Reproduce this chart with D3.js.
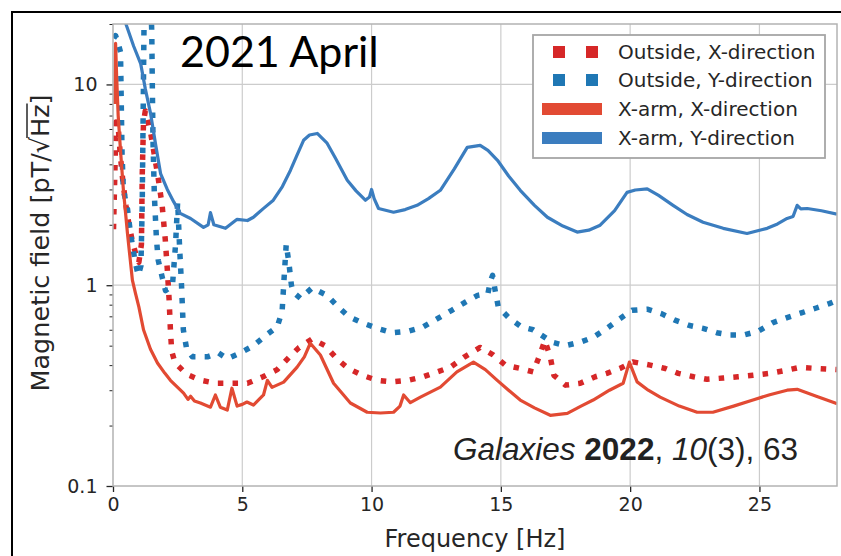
<!DOCTYPE html>
<html>
<head>
<meta charset="utf-8">
<script src="https://cdn.jsdelivr.net/npm/d3@7"></script>
<style>
  body { margin: 0; background: #fff; }
  text { font-family: "DejaVu Sans", sans-serif; fill: #262626; }
</style>
</head>
<body>
<svg id="chart" width="841" height="556"></svg>
<script>
// values, [frequency Hz, field pT/sqrt(Hz)]
let outsideX = [[0.02, 1.9], [0.08, 4], [0.12, 6.5], [0.2, 6.2], [0.28, 4.5], [0.38, 3.3], [0.5, 2.5], [0.62, 2.0],
  [0.75, 1.65], [0.9, 1.4], [1.0, 1.3], [1.1, 1.6], [1.13, 3.5], [1.18, 6.5], [1.25, 7.4], [1.45, 5.8], [1.62, 4.3],
  [1.75, 3.4], [1.9, 2.5], [2.02, 1.7], [2.1, 1.2], [2.17, 0.85], [2.22, 0.6], [2.27, 0.47], [2.4, 0.41], [2.85, 0.36],
  [3.4, 0.336], [3.98, 0.325], [4.6, 0.325], [5.2, 0.325], [5.8, 0.35], [6.35, 0.38], [6.9, 0.45], [7.2, 0.49],
  [7.7, 0.54], [8.2, 0.5], [8.66, 0.43], [9.1, 0.385], [9.64, 0.356], [10.22, 0.336], [10.8, 0.33], [11.42, 0.336],
  [12.0, 0.35], [13.04, 0.39], [13.6, 0.44], [14.2, 0.49], [14.7, 0.45], [15.17, 0.40], [15.75, 0.385], [16.25, 0.37],
  [16.45, 0.43], [16.7, 0.53], [16.91, 0.44], [17.05, 0.356], [17.5, 0.318], [18.07, 0.325], [18.65, 0.35],
  [19.1, 0.364], [19.6, 0.385], [20.1, 0.415], [20.78, 0.40], [21.36, 0.385], [21.86, 0.364], [22.45, 0.35],
  [22.97, 0.34], [23.6, 0.345], [24.17, 0.35], [24.75, 0.356], [25.4, 0.364], [25.98, 0.376], [26.56, 0.39],
  [27.2, 0.385], [28, 0.38]]

let outsideY = [[0.03, 17], [0.1, 17.5], [0.2, 16], [0.29, 14.5], [0.32, 8], [0.35, 4.5], [0.4, 3.0], [0.5, 2.6],
  [0.56, 2.4], [0.68, 1.8], [0.87, 1.28], [0.98, 1.12], [1.08, 1.25], [1.13, 2.5], [1.17, 8], [1.2, 20], [1.23, 30],
  [1.3, 30], [1.45, 30], [1.5, 18], [1.52, 10], [1.55, 5], [1.6, 2.8], [1.68, 1.7], [1.75, 1.33], [1.9, 1.1],
  [2.03, 0.94], [2.3, 1.0], [2.42, 1.6], [2.5, 2.6], [2.58, 1.5], [2.65, 1.0], [2.72, 0.6], [2.85, 0.48],
  [3.07, 0.44], [3.65, 0.44], [4.08, 0.46], [4.42, 0.43], [4.93, 0.46], [5.43, 0.50], [5.89, 0.56], [6.35, 0.62],
  [6.54, 0.74], [6.62, 1.1], [6.7, 1.6], [6.8, 1.3], [6.9, 1.0], [6.98, 0.92], [7.25, 0.86], [7.7, 0.97],
  [8.28, 0.89], [8.66, 0.79], [9.1, 0.70], [9.64, 0.65], [10.22, 0.61], [10.8, 0.58], [11.42, 0.59], [12.0, 0.62],
  [12.53, 0.68], [13.1, 0.75], [13.6, 0.82], [14.1, 0.89], [14.5, 0.91], [14.6, 1.05], [14.68, 1.12], [14.78, 0.94],
  [14.9, 0.78], [15.3, 0.69], [15.8, 0.62], [16.25, 0.6], [16.7, 0.55], [16.98, 0.52], [17.5, 0.50], [18.07, 0.52],
  [18.57, 0.55], [19.1, 0.61], [19.6, 0.68], [20.07, 0.75], [20.66, 0.76], [21.23, 0.72], [21.73, 0.67],
  [22.3, 0.63], [22.82, 0.61], [23.35, 0.58], [23.87, 0.565], [24.4, 0.565], [24.95, 0.59], [25.5, 0.65],
  [26.07, 0.69], [26.65, 0.73], [27.2, 0.77], [27.7, 0.81], [28, 0.84]]

let armX = [[0.07, 8], [0.1, 16], [0.14, 11], [0.2, 7], [0.29, 4.7], [0.4, 3.0], [0.56, 1.81], [0.75, 1.06],
  [0.87, 0.91], [1.0, 0.78], [1.18, 0.6], [1.45, 0.48], [1.72, 0.41], [2.0, 0.365], [2.22, 0.336], [2.5, 0.31],
  [2.73, 0.29], [2.9, 0.27], [3.0, 0.28], [3.15, 0.265], [3.38, 0.259], [3.77, 0.247], [3.96, 0.284], [4.15, 0.247],
  [4.42, 0.239], [4.6, 0.307], [4.8, 0.25], [5.0, 0.255], [5.18, 0.262], [5.43, 0.253], [5.82, 0.284], [5.97, 0.336],
  [6.15, 0.31], [6.6, 0.329], [7.12, 0.391], [7.4, 0.44], [7.63, 0.514], [8.02, 0.449], [8.53, 0.325], [9.18, 0.259],
  [9.83, 0.233], [10.34, 0.231], [10.85, 0.233], [11.1, 0.25], [11.24, 0.284], [11.5, 0.26], [11.89, 0.277],
  [12.66, 0.311], [13.3, 0.37], [13.94, 0.414], [14.4, 0.38], [14.86, 0.336], [15.3, 0.3], [15.75, 0.268],
  [16.3, 0.245], [16.91, 0.225], [17.57, 0.23], [18.1, 0.25], [18.57, 0.268], [19.2, 0.3], [19.73, 0.325],
  [19.97, 0.414], [20.27, 0.33], [20.7, 0.3], [21.16, 0.277], [21.9, 0.25], [22.59, 0.233], [23.2, 0.233],
  [24.0, 0.25], [24.75, 0.268], [25.4, 0.285], [26.07, 0.30], [26.46, 0.303], [27.2, 0.28], [27.93, 0.259], [28, 0.257]]

let armY = [[0.35, 26], [0.5, 20], [0.8, 15.5], [1.07, 12.7], [1.25, 9.5], [1.45, 7.2], [1.65, 5.0], [1.84, 3.6],
  [2.1, 3.0], [2.35, 2.6], [2.6, 2.28], [3.0, 2.15], [3.5, 1.94], [3.68, 2.0], [3.77, 2.3], [3.9, 2.0], [4.35, 1.92],
  [4.8, 2.13], [5.2, 2.1], [5.43, 2.18], [5.8, 2.4], [6.2, 2.65], [6.55, 3.1], [6.86, 3.73], [7.1, 4.4], [7.37, 5.27],
  [7.6, 5.6], [7.9, 5.7], [8.28, 5.1], [8.6, 4.3], [9.06, 3.33], [9.4, 2.95], [9.76, 2.65], [9.92, 2.75], [10.0, 3.0],
  [10.1, 2.7], [10.27, 2.41], [10.85, 2.31], [11.3, 2.38], [11.76, 2.5], [12.2, 2.7], [12.66, 2.97], [13.2, 3.8],
  [13.7, 4.86], [14.2, 4.97], [14.5, 4.7], [14.87, 4.19], [15.3, 3.5], [15.75, 2.97], [16.3, 2.5], [16.8, 2.18],
  [17.4, 1.97], [17.95, 1.84], [18.4, 1.88], [18.84, 1.99], [19.4, 2.35], [19.88, 2.9], [20.2, 2.98], [20.66, 3.02],
  [21.1, 2.8], [21.66, 2.5], [22.2, 2.25], [22.82, 2.06], [23.6, 1.92], [24.52, 1.81], [25.3, 1.92], [25.7, 2.02],
  [26.07, 2.15], [26.3, 2.2], [26.46, 2.5], [26.6, 2.4], [26.85, 2.41], [27.4, 2.35], [28, 2.26]]

let seriesNames = ["Outside, X-direction", "Outside, Y-direction", "X-arm, X-direction", "X-arm, Y-direction"]
let seriesColors = ["#d62728", "#1f77b4", "#e24a33", "#3b7dbf"]
let xTicks = [0, 5, 10, 15, 20, 25]
let yTicks = [0.1, 1, 10]
let yTickLabels = ["0.1", "1", "10"]

let svg = d3.select("#chart")
let pLeft = 113, pRight = 837, pTop = 24, pBottom = 486

let x = d3.scaleLinear().domain([0, 28]).range([pLeft, pRight])
let y = d3.scaleLog().domain([0.1, 20]).range([pBottom, pTop])

// outer black frame of the figure
svg.append("line").attr("x1", 11).attr("x2", 841).attr("y1", 12).attr("y2", 12)
    .attr("stroke", "black").attr("stroke-width", 2)
svg.append("line").attr("x1", 12).attr("x2", 12).attr("y1", 11).attr("y2", 556)
    .attr("stroke", "black").attr("stroke-width", 2)

// grid
let grid = svg.append("g").attr("class", "grid")
grid.selectAll(".vx").data(xTicks.filter(d => d > 0)).enter().append("line")
    .attr("x1", d => x(d)).attr("x2", d => x(d)).attr("y1", pTop).attr("y2", pBottom)
    .attr("stroke", "#cccccc").attr("stroke-width", 1.2)
grid.selectAll(".hy").data(yTicks.filter(d => d > 0.1)).enter().append("line")
    .attr("x1", pLeft).attr("x2", pRight).attr("y1", d => y(d)).attr("y2", d => y(d))
    .attr("stroke", "#cccccc").attr("stroke-width", 1.2)

// axes
let xAxis = svg.append("g")
    .attr("transform", "translate(0," + pBottom + ")")
    .call(d3.axisBottom(x).tickValues(xTicks).tickSize(6).tickPadding(6))
xAxis.select(".domain").remove()
xAxis.selectAll("line").attr("stroke", "#262626").attr("stroke-width", 1.3)
xAxis.selectAll("text").style("font-size", "19px").attr("fill", "#262626")

let minor = []
;[0.1, 1, 10].forEach(b => { for (let k = 2; k <= 9; k++) if (b * k <= 20) minor.push(b * k) })
let yMinor = svg.append("g")
    .attr("transform", "translate(" + pLeft + ",0)")
    .call(d3.axisLeft(y).tickValues(minor).tickSize(3.5).tickFormat(""))
yMinor.select(".domain").remove()
yMinor.selectAll("line").attr("stroke", "#262626").attr("stroke-width", 1)

let yAxis = svg.append("g")
    .attr("transform", "translate(" + pLeft + ",0)")
    .call(d3.axisLeft(y).tickValues(yTicks).tickSize(6.5).tickPadding(9)
        .tickFormat((d, i) => yTickLabels[i]))
yAxis.select(".domain").remove()
yAxis.selectAll("line").attr("stroke", "#262626").attr("stroke-width", 1.3)
yAxis.selectAll("text").style("font-size", "19px").attr("fill", "#262626")

// lines
svg.append("clipPath").attr("id", "clip")
    .append("rect").attr("x", pLeft).attr("y", pTop).attr("width", pRight - pLeft).attr("height", pBottom - pTop)

let line = d3.line().x(d => x(d[0])).y(d => y(d[1]))
let plot = svg.append("g").attr("clip-path", "url(#clip)")
let allSeries = [outsideX, outsideY, armX, armY]
plot.selectAll("path").data(allSeries).enter().append("path")
    .attr("d", line)
    .attr("fill", "none")
    .attr("stroke", (d, i) => seriesColors[i])
    .attr("stroke-width", (d, i) => i < 2 ? 5.5 : 3.2)
    .attr("stroke-dasharray", (d, i) => i < 2 ? "5.5,9.2" : null)
    .attr("stroke-linejoin", "round")

// spines
svg.append("rect").attr("x", pLeft).attr("y", pTop).attr("width", pRight - pLeft).attr("height", pBottom - pTop)
    .attr("fill", "none").attr("stroke", "#b3b3b3").attr("stroke-width", 1.5)

// axis labels
svg.append("text").attr("x", (pLeft + pRight) / 2).attr("y", 547)
    .attr("text-anchor", "middle").style("font-size", "24px")
    .text("Frequency [Hz]")

let ylab = svg.append("g").attr("transform", "translate(49,243) rotate(-90)")
let ytext = ylab.append("text").attr("x", 0).attr("y", 0)
    .attr("text-anchor", "middle").style("font-size", "25.5px")
let pre = "Magnetic field [pT/\u221A"
ytext.append("tspan").text(pre)
ytext.append("tspan").text("Hz")
ytext.append("tspan").text("]")
let node = ytext.node()
let total = node.getComputedTextLength()
let preLen = node.getSubStringLength(0, pre.length)
let hzLen = node.getSubStringLength(pre.length, 2)
let x0 = -total / 2
ylab.append("line")
    .attr("x1", x0 + preLen - 1).attr("x2", x0 + preLen + hzLen + 1)
    .attr("y1", -22).attr("y2", -22)
    .attr("stroke", "#262626").attr("stroke-width", 1.5)

// title and citation
svg.append("text").attr("x", 180).attr("y", 67)
    .style("font-family", "Lato, 'Open Sans', sans-serif").style("font-size", "43px")
    .style("fill", "black")
    .text("2021 April")

let cite = svg.append("text").attr("x", 453).attr("y", 460)
    .style("font-family", "'Liberation Sans', Arial, sans-serif").style("font-size", "31.5px")
    .style("fill", "#222")
cite.append("tspan").style("font-style", "italic").text("Galaxies")
cite.append("tspan").text(" ")
cite.append("tspan").style("font-weight", "bold").text("2022")
cite.append("tspan").text(", ")
cite.append("tspan").style("font-style", "italic").text("10")
cite.append("tspan").text("(3), 63")

// legend
let legend = svg.append("g")
legend.append("rect").attr("x", 533).attr("y", 35).attr("width", 292).attr("height", 123)
    .attr("fill", "white").attr("stroke", "#a6a6a6").attr("stroke-width", 1.8)
let rowY = [52, 80, 109, 138]
let items = legend.selectAll(".item").data(seriesNames).enter().append("g")
items.append("line")
    .attr("x1", (d, i) => i < 2 ? 553 : 542)
    .attr("x2", (d, i) => i < 2 ? 598 : 602)
    .attr("y1", (d, i) => rowY[i]).attr("y2", (d, i) => rowY[i])
    .attr("stroke", (d, i) => seriesColors[i])
    .attr("stroke-width", 12)
    .attr("stroke-dasharray", (d, i) => i < 2 ? "12,21" : null)
items.append("text")
    .attr("x", 618).attr("y", (d, i) => rowY[i])
    .attr("dy", "0.36em")
    .style("font-size", "20px")
    .text(d => d)
</script>
</body>
</html>
